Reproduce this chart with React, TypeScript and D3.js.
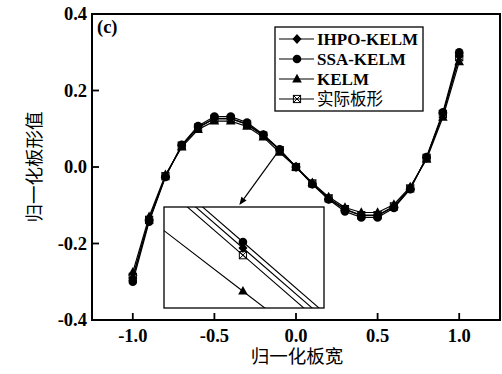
import React from 'react';
import * as d3 from 'd3';

const xValues = [-1.0, -0.9, -0.8, -0.7, -0.6, -0.5, -0.4, -0.3, -0.2, -0.1, 0.0, 0.1, 0.2, 0.3, 0.4, 0.5, 0.6, 0.7, 0.8, 0.9, 1.0];
const actual = [-0.287, -0.138, -0.024, 0.056, 0.103, 0.126, 0.126, 0.111, 0.082, 0.044, 0.0, -0.043, -0.082, -0.110, -0.126, -0.126, -0.103, -0.056, 0.024, 0.138, 0.287];
const ihpo = [-0.290, -0.139, -0.024, 0.056, 0.104, 0.127, 0.127, 0.112, 0.083, 0.045, 0.0, -0.044, -0.083, -0.111, -0.127, -0.127, -0.104, -0.056, 0.024, 0.139, 0.290];
const ssa = [-0.300, -0.143, -0.026, 0.058, 0.107, 0.132, 0.132, 0.116, 0.085, 0.046, 0.0, -0.045, -0.085, -0.116, -0.132, -0.132, -0.107, -0.058, 0.026, 0.143, 0.300];
const kelm = [-0.275, -0.130, -0.020, 0.052, 0.098, 0.120, 0.120, 0.106, 0.078, 0.038, 0.0, -0.041, -0.078, -0.106, -0.119, -0.119, -0.098, -0.052, 0.020, 0.130, 0.275];

const xTicks = [-1.0, -0.5, 0.0, 0.5, 1.0];
const yTicks = [-0.4, -0.2, 0.0, 0.2, 0.4];

// inset (zoomed view around x = -0.1)
const insetXValues = [-0.13, -0.1, -0.07];
const insetActual = [0.05697, 0.0438, 0.03063];
const insetIhpo = [0.05817, 0.045, 0.03183];
const insetSsa = [0.05917, 0.046, 0.03283];
const insetKelm = [0.04944, 0.0378, 0.02616];
const insetXDomain = [-0.126, -0.0733];
const insetYDomain = [0.035, 0.05183];

const seriesNames = ['IHPO-KELM', 'SSA-KELM', 'KELM', '实际板形'];
const seriesMarkers = ['diamond', 'circle', 'triangle', 'xsquare'];

const W = 502;
const H = 374;
const serif = "'Liberation Serif', 'Times New Roman', serif";
const cjk = "'Noto Sans CJK SC', sans-serif";

function Marker({ type, cx, cy }: { type: string; cx: number; cy: number }) {
  if (type === 'circle') return <circle cx={cx} cy={cy} r={4.3} fill="#000" />;
  if (type === 'diamond')
    return <path d={`M${cx},${cy - 5}L${cx + 4.5},${cy}L${cx},${cy + 5}L${cx - 4.5},${cy}Z`} fill="#000" />;
  if (type === 'triangle')
    return <path d={`M${cx},${cy - 5.2}L${cx + 4.8},${cy + 3.4}L${cx - 4.8},${cy + 3.4}Z`} fill="#000" />;
  const s = 3.6;
  return (
    <g stroke="#000" strokeWidth={1} fill="none">
      <rect x={cx - s} y={cy - s} width={2 * s} height={2 * s} />
      <path d={`M${cx - s},${cy - s}L${cx + s},${cy + s}M${cx + s},${cy - s}L${cx - s},${cy + s}`} />
    </g>
  );
}

export default function App() {
  const left = 92, right = 500, top = 14, bottom = 320;
  const x = d3.scaleLinear().domain([-1.25, 1.25]).range([left, right]);
  const y = d3.scaleLinear().domain([-0.4, 0.4]).range([bottom, top]);

  const iLeft = 164, iRight = 324, iTop = 207, iBottom = 308;
  const ix = d3.scaleLinear().domain(insetXDomain).range([iLeft, iRight]);
  const iy = d3.scaleLinear().domain(insetYDomain).range([iBottom, iTop]);

  const mainSeries = [
    { vals: actual, m: 'xsquare' },
    { vals: kelm, m: 'triangle' },
    { vals: ihpo, m: 'diamond' },
    { vals: ssa, m: 'circle' },
  ];
  const insetSeries = [
    { vals: insetActual, m: 'xsquare' },
    { vals: insetKelm, m: 'triangle' },
    { vals: insetIhpo, m: 'diamond' },
    { vals: insetSsa, m: 'circle' },
  ];

  const line = d3.line<number>().x((_, i) => x(xValues[i])).y((d) => y(d));
  const iline = d3.line<number>().x((_, i) => ix(insetXValues[i])).y((d) => iy(d));

  // arrow from main point at x=-0.1 to inset top
  const ax1 = x(-0.1), ay1 = y(ssa[9]);
  const ax2 = ix(-0.1012), ay2 = iTop - 2;
  const ang = Math.atan2(ay2 - ay1, ax2 - ax1);
  const ah = 8, aw = 3.2;
  const bx = ax2 - ah * Math.cos(ang), by = ay2 - ah * Math.sin(ang);
  const arrowHead = `M${ax2},${ay2}L${bx + aw * Math.sin(ang)},${by - aw * Math.cos(ang)}L${bx - aw * Math.sin(ang)},${by + aw * Math.cos(ang)}Z`;

  const legX = 275, legY = 27, legW = 148, legH = 84;
  const rowY = [39, 59, 79, 99];

  return (
    <svg width={W} height={H} style={{ position: 'absolute', left: 0, top: 0, background: '#fff' }}>
      <defs>
        <clipPath id="insetClip">
          <rect x={iLeft} y={iTop} width={iRight - iLeft} height={iBottom - iTop} />
        </clipPath>
      </defs>
      <rect x={0} y={0} width={W} height={H} fill="#fff" />

      {/* main series */}
      {mainSeries.map((s, k) => (
        <path key={'l' + k} d={line(s.vals) || ''} fill="none" stroke="#000" strokeWidth={1.2} />
      ))}
      {mainSeries.map((s, k) => (
        <g key={'m' + k}>
          {s.vals.map((v, i) => (
            <Marker key={i} type={s.m} cx={x(xValues[i])} cy={y(v)} />
          ))}
        </g>
      ))}

      {/* arrow */}
      <line x1={ax1} y1={ay1} x2={bx} y2={by} stroke="#000" strokeWidth={1.2} />
      <path d={arrowHead} fill="#000" />

      {/* inset */}
      <rect x={iLeft} y={iTop} width={iRight - iLeft} height={iBottom - iTop} fill="#fff" />
      <g clipPath="url(#insetClip)">
        {insetSeries.map((s, k) => (
          <path key={'il' + k} d={iline(s.vals) || ''} fill="none" stroke="#000" strokeWidth={1.1} />
        ))}
        {insetSeries.map((s, k) => (
          <Marker key={'im' + k} type={s.m} cx={ix(insetXValues[1])} cy={iy(s.vals[1])} />
        ))}
      </g>
      <rect x={iLeft} y={iTop} width={iRight - iLeft} height={iBottom - iTop} fill="none" stroke="#000" strokeWidth={1.3} />

      {/* frame */}
      <rect x={left} y={top} width={right - left} height={bottom - top} fill="none" stroke="#000" strokeWidth={2} />

      {/* ticks */}
      {xTicks.map((t) => (
        <g key={'xt' + t}>
          <line x1={x(t)} x2={x(t)} y1={bottom} y2={bottom - 7} stroke="#000" strokeWidth={1.8} />
          <text x={x(t)} y={342} textAnchor="middle" fontFamily={serif} fontWeight="bold" fontSize={18.5}>
            {t.toFixed(1)}
          </text>
        </g>
      ))}
      {yTicks.map((t) => (
        <g key={'yt' + t}>
          <line x1={left} x2={left + 7} y1={y(t)} y2={y(t)} stroke="#000" strokeWidth={1.8} />
          <text x={87} y={y(t) + 6} textAnchor="end" fontFamily={serif} fontWeight="bold" fontSize={18.5}>
            {t.toFixed(1)}
          </text>
        </g>
      ))}

      {/* axis titles */}
      <text x={297} y={363} textAnchor="middle" fontFamily={cjk} fontSize={18.5}>
        归一化板宽
      </text>
      <text
        transform={`translate(41,167) rotate(-90)`}
        textAnchor="middle"
        fontFamily={cjk}
        fontSize={18.5}
      >
        归一化板形值
      </text>

      {/* panel label */}
      <text x={97} y={33} fontFamily={serif} fontWeight="bold" fontSize={18.5}>
        (c)
      </text>

      {/* legend */}
      <rect x={legX} y={legY} width={legW} height={legH} fill="#fff" stroke="#000" strokeWidth={1.3} />
      {seriesNames.map((n, i) => (
        <g key={'lg' + i}>
          <line x1={279} x2={314} y1={rowY[i]} y2={rowY[i]} stroke="#000" strokeWidth={1.2} />
          <Marker type={seriesMarkers[i]} cx={297} cy={rowY[i]} />
          <text
            x={317}
            y={rowY[i] + 6}
            fontFamily={i === 3 ? cjk : serif}
            fontWeight={i === 3 ? 'normal' : 'bold'}
            fontSize={i === 3 ? 16.5 : 17}
          >
            {n}
          </text>
        </g>
      ))}
    </svg>
  );
}
